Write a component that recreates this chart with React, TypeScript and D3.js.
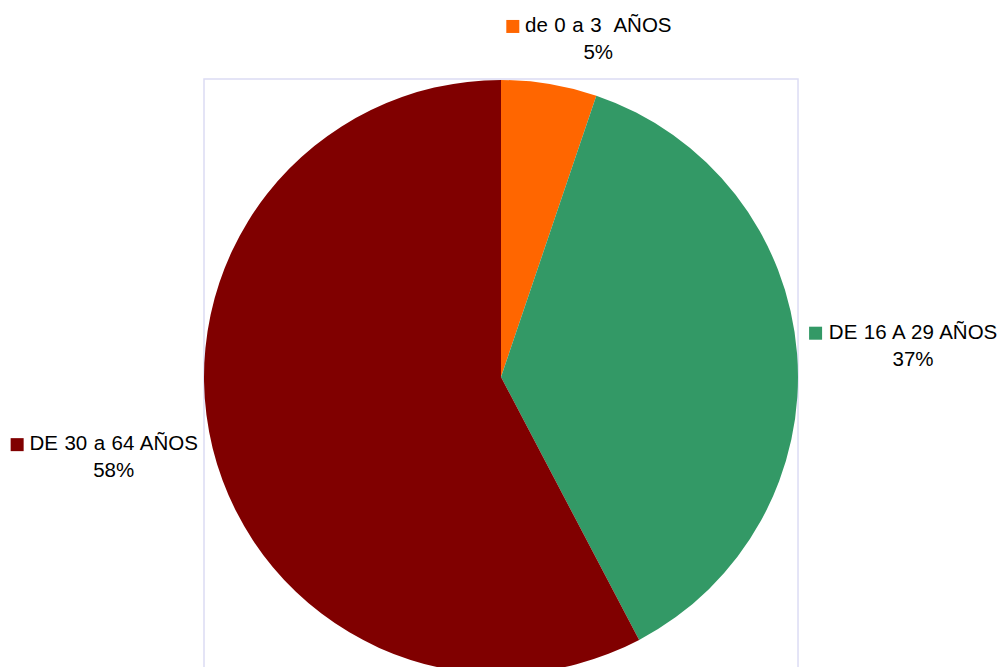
import React from 'react';
import * as d3 from 'd3';

const categories = ['de 0 a 3  AÑOS', 'DE 16 A 29 AÑOS', 'DE 30 a 64 AÑOS'];
const shares = [5.2, 37.1, 57.7];
const percentLabels = ['5%', '37%', '58%'];
const colors = ['#FF6600', '#339966', '#800000'];

// label offsets from the slice's outer mid point (text centre, first baseline)
const labelOffsets = [
  { dx: 49, dy: -52 },
  { dx: 116, dy: -15 },
  { dx: -99, dy: 2 },
];
// approx rendered widths of the category labels, used to put the legend key
const labelWidths = [146, 170, 168];

const width = 1003;
const height = 667;
const cx = 501;
const cy = 377;
const radius = 297;

const App: React.FC = () => {
  const pie = d3
    .pie<number>()
    .sort(null)
    .value(d => d)
    .startAngle(0)
    .endAngle(2 * Math.PI);
  const arcs = pie(shares);
  const arc = d3.arc<d3.PieArcDatum<number>>().innerRadius(0).outerRadius(radius);

  return (
    <svg
      width={width}
      height={height}
      style={{ position: 'absolute', left: 0, top: 0, background: '#fff' }}
      fontFamily="'Liberation Sans', Arial, sans-serif"
    >
      <rect x={204} y={79} width={594} height={700} fill="none" stroke="#dcdcf4" strokeWidth={1.5} />
      <g transform={`translate(${cx},${cy})`}>
        {arcs.map((a, i) => (
          <path key={i} d={arc(a) || ''} fill={colors[i]} />
        ))}
      </g>
      {arcs.map((a, i) => {
        const mid = (a.startAngle + a.endAngle) / 2;
        const ox = cx + radius * Math.sin(mid);
        const oy = cy - radius * Math.cos(mid);
        const tx = ox + labelOffsets[i].dx;
        const ty = oy + labelOffsets[i].dy;
        const w = labelWidths[i];
        return (
          <g key={i}>
            <rect x={tx - w / 2 - 19} y={ty - 12} width={13} height={13} fill={colors[i]} />
            <text
              x={tx}
              y={ty}
              textAnchor="middle"
              fontSize={20.5}
              fill="#000"
              wordSpacing={0.8}
              style={{ whiteSpace: 'pre' }}
              xmlSpace="preserve"
            >
              {categories[i]}
            </text>
            <text x={tx} y={ty + 27} textAnchor="middle" fontSize={20.5} fill="#000">
              {percentLabels[i]}
            </text>
          </g>
        );
      })}
    </svg>
  );
};

export default App;
